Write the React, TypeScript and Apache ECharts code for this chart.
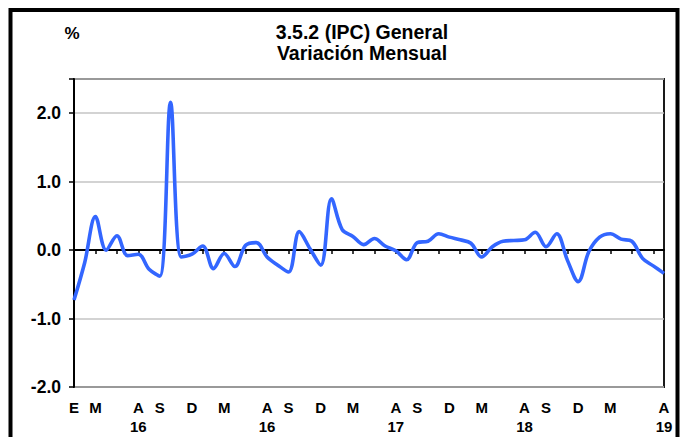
import React, { useEffect, useRef } from "react";
import * as echarts from "echarts";

const months = [
  "2015-01","2015-02","2015-03","2015-04","2015-05","2015-06","2015-07","2015-08","2015-09","2015-10","2015-11","2015-12",
  "2016-01","2016-02","2016-03","2016-04","2016-05","2016-06","2016-07","2016-08","2016-09","2016-10","2016-11","2016-12",
  "2017-01","2017-02","2017-03","2017-04","2017-05","2017-06","2017-07","2017-08","2017-09","2017-10","2017-11","2017-12",
  "2018-01","2018-02","2018-03","2018-04","2018-05","2018-06","2018-07","2018-08","2018-09","2018-10","2018-11","2018-12",
  "2019-01","2019-02","2019-03","2019-04","2019-05","2019-06","2019-07","2019-08",
];

const variacion = [
  -0.73, -0.18, 0.49, 0.0, 0.21, -0.08, -0.06, -0.28, -0.38, 2.16, -0.1, -0.06,
  0.06, -0.27, -0.05, -0.24, 0.07, 0.11, -0.1, -0.22, -0.32, 0.27, 0.02, -0.22,
  0.75, 0.3, 0.2, 0.08, 0.17, 0.06, -0.01, -0.14, 0.11, 0.13, 0.24, 0.19,
  0.15, 0.1, -0.1, 0.05, 0.13, 0.14, 0.15, 0.26, 0.05, 0.24, -0.15, -0.46,
  -0.02, 0.19, 0.24, 0.16, 0.13, -0.12, -0.23, -0.34,
];

const xLabelIndex = [0, 2, 6, 8, 11, 14, 18, 20, 23, 26, 30, 32, 35, 38, 42, 44, 47, 50, 55];
const xLabelLetter = ["E", "M", "A", "S", "D", "M", "A", "S", "D", "M", "A", "S", "D", "M", "A", "S", "D", "M", "A"];
const xLabelYear = ["", "", "16", "", "", "", "16", "", "", "", "17", "", "", "", "18", "", "", "", "19"];

const yTicks = [-2, -1, 0, 1, 2];

const titleLines = ["3.5.2 (IPC) General", "Variación Mensual"];
const unitLabel = "%";

const FONT = "'Liberation Sans', Arial, sans-serif";

export default function App() {
  const ref = useRef<HTMLDivElement>(null);

  useEffect(() => {
    if (!ref.current) return;
    const chart = echarts.init(ref.current, null, { renderer: "svg" });
    const labelMap: Record<number, string> = {};
    xLabelIndex.forEach((idx, k) => {
      labelMap[idx] = xLabelYear[k] ? `${xLabelLetter[k]}\n${xLabelYear[k]}` : xLabelLetter[k];
    });

    chart.setOption({
      animation: false,
      backgroundColor: "#ffffff",
      grid: {
        left: 74,
        right: 20,
        top: 79,
        bottom: 50,
        show: true,
        borderColor: "#1a1a1a",
        borderWidth: 2,
        backgroundColor: "transparent",
      },
      graphic: [
        {
          type: "rect",
          shape: { x: 10.5, y: 10, width: 667, height: 460 },
          style: { fill: "none", stroke: "#000", lineWidth: 4 },
          silent: true,
        },
        {
          type: "text",
          x: 362,
          y: 31.5,
          style: {
            text: titleLines[0],
            fill: "#000",
            font: `bold 19.5px ${FONT}`,
            textAlign: "center",
            textVerticalAlign: "middle",
          },
        },
        {
          type: "text",
          x: 362,
          y: 52.5,
          style: {
            text: titleLines[1],
            fill: "#000",
            font: `bold 19.5px ${FONT}`,
            textAlign: "center",
            textVerticalAlign: "middle",
          },
        },
        {
          type: "text",
          x: 72,
          y: 33,
          style: {
            text: unitLabel,
            fill: "#000",
            font: `bold 17px ${FONT}`,
            textAlign: "center",
            textVerticalAlign: "middle",
          },
        },
      ],
      xAxis: {
        type: "category",
        data: months,
        boundaryGap: false,
        axisLine: { show: true, lineStyle: { color: "#000", width: 2 } },
        axisTick: { show: true, interval: 1, length: 4, lineStyle: { color: "#000", width: 1.5 } },
        axisLabel: {
          interval: (index: number) => labelMap[index] !== undefined,
          formatter: (_v: string, index: number) => labelMap[index] ?? "",
          color: "#000",
          fontFamily: FONT,
          fontWeight: "bold",
          fontSize: 15,
          lineHeight: 19,
          margin: 11,
        },
        splitLine: { show: false },
      },
      yAxis: {
        type: "value",
        min: -2,
        max: 2.5,
        interval: 1,
        axisLine: { show: true, lineStyle: { color: "#000", width: 2 } },
        axisTick: { show: true, length: 5, lineStyle: { color: "#000", width: 1.5 } },
        axisLabel: {
          formatter: (v: number) => (yTicks.includes(v) ? v.toFixed(1) : ""),
          color: "#000",
          fontFamily: FONT,
          fontWeight: "bold",
          fontSize: 17.5,
          margin: 13,
        },
        splitLine: { show: true, lineStyle: { color: "#c4c4c4", width: 1.5 } },
      },
      series: [
        {
          type: "line",
          data: variacion,
          smooth: 0.35,
          symbol: "none",
          lineStyle: { color: "#3366ff", width: 3.6 },
        },
      ],
    });
    return () => chart.dispose();
  }, []);

  return (
    <div
      ref={ref}
      style={{ position: "fixed", left: 0, top: 0, width: 684, height: 437, background: "#fff" }}
    />
  );
}
